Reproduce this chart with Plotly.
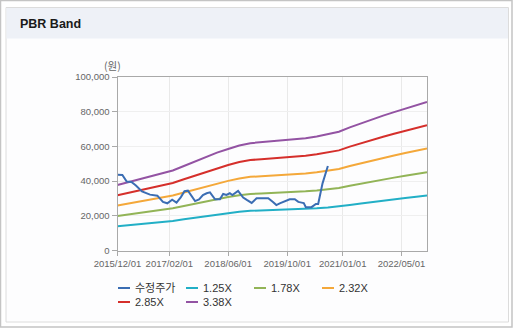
import plotly.graph_objects as go

# ---------------- data ----------------
price_dates = ["2015-12-01", "2016-01-10", "2016-02-15", "2016-03-25", "2016-05-01", "2016-06-20",
               "2016-08-25", "2016-10-25", "2016-12-10", "2017-01-15", "2017-02-24", "2017-04-01",
               "2017-05-07", "2017-06-06", "2017-07-04", "2017-07-28", "2017-09-01", "2017-10-04",
               "2017-11-05", "2017-12-06", "2018-01-02", "2018-02-13", "2018-03-25", "2018-04-21",
               "2018-05-18", "2018-06-15", "2018-07-06", "2018-08-22", "2018-10-03", "2018-11-05",
               "2018-12-12", "2019-01-22", "2019-04-28", "2019-06-06", "2019-07-04", "2019-08-01",
               "2019-08-28", "2019-10-22", "2019-12-03", "2020-01-01", "2020-01-28", "2020-02-15",
               "2020-03-03", "2020-04-19", "2020-05-25", "2020-06-13", "2020-07-19", "2020-09-01"]
price = [43700, 43500, 39800, 39500, 37500, 34000,
         32200, 31600, 28000, 27200, 29300, 27600,
         30800, 34200, 34500, 32000, 28500, 29500,
         32000, 33000, 33500, 29500, 29500, 32600,
         32000, 33000, 32000, 34300, 30500, 29000,
         27400, 30100, 30100, 28000, 26200, 27200,
         28100, 29500, 29500, 28000, 27600, 27300,
         25000, 25000, 26800, 26800, 38700, 48700]

band_dates = ["2015-12-01", "2016-03-01", "2016-06-01", "2016-09-01", "2016-12-01", "2017-03-01",
              "2017-06-01", "2017-09-01", "2017-12-01", "2018-03-01", "2018-06-01", "2018-09-01",
              "2018-12-01", "2019-03-01", "2019-06-01", "2019-09-01", "2019-12-01", "2020-03-01",
              "2020-06-01", "2020-09-01", "2020-12-01", "2021-03-01", "2021-06-01", "2021-09-01",
              "2021-12-01", "2022-03-01", "2022-06-01", "2022-09-01", "2022-11-28"]
band_125 = [13975, 14563, 15188, 15813, 16438, 17063, 18000, 18938, 19938, 20875, 21625, 22375,
            22875, 23063, 23250, 23438, 23625, 23938, 24313, 24750, 25313, 26250, 27125, 28000,
            28750, 29500, 30250, 31000, 31663]
band_178 = [19900, 20737, 21627, 22517, 23407, 24297, 25632, 26967, 28391, 29726, 30794, 31862,
            32574, 32841, 33108, 33375, 33642, 34087, 34621, 35244, 36045, 37380, 38626, 39872,
            40940, 42008, 43076, 44144, 45087]
band_232 = [25938, 27028, 28188, 29348, 30508, 31668, 33408, 35148, 37004, 38744, 40136, 41528,
            42456, 42804, 43152, 43500, 43848, 44428, 45124, 45936, 46980, 48720, 50344, 51968,
            53360, 54752, 56144, 57536, 58766]
band_285 = [31863, 33203, 34628, 36053, 37478, 38903, 41040, 43178, 45458, 47595, 49305, 51015,
            52155, 52583, 53010, 53438, 53865, 54578, 55433, 56430, 57713, 59850, 61845, 63840,
            65550, 67260, 68970, 70680, 72191]
band_338 = [37788, 39377, 41067, 42757, 44447, 46137, 48672, 51207, 53911, 56446, 58474, 60502,
            61854, 62361, 62868, 63375, 63882, 64727, 65741, 66924, 68445, 70980, 73346, 75712,
            77740, 79768, 81796, 83824, 85615]

series_names = ["수정주가", "1.25X", "1.78X", "2.32X", "2.85X", "3.38X"]
x_tick_vals = ["2015-12-01", "2017-02-01", "2018-06-01", "2019-10-01", "2021-01-01", "2022-05-01"]
x_tick_text = ["2015/12/01", "2017/02/01", "2018/06/01", "2019/10/01", "2021/01/01", "2022/05/01"]
y_tick_vals = [0, 20000, 40000, 60000, 80000, 100000]

# ---------------- style ----------------
W, H = 513, 328
colors = ["#3b6db3", "#22afc6", "#92b457", "#f4a83a", "#d52f2b", "#9353a3"]
FONT = "Liberation Sans, Arial, sans-serif"


def px(x):
    return x / W


def py(y):
    return 1 - y / H


fig = go.Figure()
series = [(price_dates, price)] + [(band_dates, b) for b in
                                   [band_125, band_178, band_232, band_285, band_338]]
# draw bands first, price on top
order = [1, 2, 3, 4, 5, 0]
for i in order:
    d, v = series[i]
    fig.add_trace(go.Scatter(x=d, y=v, mode="lines", name=series_names[i],
                             line=dict(color=colors[i], width=2), showlegend=False))

shapes = []
# outer frame
shapes.append(dict(type="rect", xref="paper", yref="paper", x0=px(0.5), x1=px(512), y0=py(0.5), y1=py(327),
                   line=dict(color="#c4c4c4", width=1.5), fillcolor="white", layer="below"))
# inner panel
shapes.append(dict(type="rect", xref="paper", yref="paper", x0=px(6), x1=px(508.5), y0=py(7.5), y1=py(322),
                   line=dict(color="#dcdcdc", width=1), fillcolor="#fdfdfe", layer="below"))
# header band
shapes.append(dict(type="rect", xref="paper", yref="paper", x0=px(6.5), x1=px(508), y0=py(8), y1=py(38.5),
                   line=dict(width=0), fillcolor="#eef1f7", layer="below"))

annotations = [
    dict(text="<b>PBR Band</b>", x=px(18), y=py(24), xref="paper", yref="paper",
         xanchor="left", yanchor="middle", showarrow=False,
         font=dict(family=FONT, size=12.5, color="#1a1a1a")),
    dict(text="(원)", x=px(112), y=py(65), xref="paper", yref="paper",
         xanchor="center", yanchor="middle", showarrow=False,
         font=dict(family="Noto Sans CJK KR, sans-serif", size=10.5, color="#666666")),
]

# custom legend
leg_pos = [(118, 288), (186, 288), (254, 288), (322, 288), (118, 302), (186, 302)]
for i, (lx, ly) in enumerate(leg_pos):
    shapes.append(dict(type="line", xref="paper", yref="paper", x0=px(lx), x1=px(lx + 12),
                       y0=py(ly), y1=py(ly), line=dict(color=colors[i], width=2)))
    annotations.append(dict(text=series_names[i], x=px(lx + 14.5), y=py(ly), xref="paper", yref="paper",
                            xanchor="left", yanchor="middle", showarrow=False,
                            font=dict(family="Liberation Sans, Noto Sans CJK KR, sans-serif",
                                      size=11, color="#333333")))

fig.update_layout(
    width=W, height=H, autosize=False,
    margin=dict(l=0, r=0, t=0, b=0, pad=0, autoexpand=False),
    paper_bgcolor="white", plot_bgcolor="white",
    shapes=shapes, annotations=annotations,
    showlegend=False,
    xaxis=dict(domain=[px(117.5), px(427)], type="date", automargin=False,
               range=["2015-12-01", "2022-11-28"],
               tickvals=x_tick_vals, ticktext=x_tick_text,
               tickfont=dict(family=FONT, size=9.5, color="#666666"),
               showgrid=True, gridcolor="#e9e9e9", gridwidth=1,
               showline=True, linecolor="#a9a9a9", linewidth=1, mirror=True,
               ticks="outside", ticklen=4, tickcolor="#a9a9a9", zeroline=False),
    yaxis=dict(domain=[py(250.5), py(77)], range=[0, 100000], automargin=False,
               tickvals=y_tick_vals, tickformat=",",
               tickfont=dict(family=FONT, size=9.5, color="#666666"),
               showgrid=True, gridcolor="#efefef", gridwidth=1,
               showline=True, linecolor="#a9a9a9", linewidth=1, mirror=True,
               ticks="outside", ticklen=5, tickcolor="#a9a9a9", zeroline=False),
)

fig.write_html("out.html", config={"responsive": False})
